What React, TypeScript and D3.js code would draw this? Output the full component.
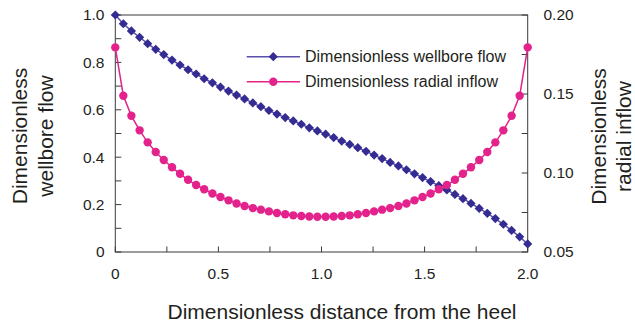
import React from 'react';
import * as d3 from 'd3';

// distance from the heel (52 stations)
const distance = [
  0, 0.039, 0.078, 0.118, 0.157, 0.196, 0.235, 0.275, 0.314, 0.353, 0.392, 0.431, 0.471,
  0.51, 0.549, 0.588, 0.627, 0.667, 0.706, 0.745, 0.784, 0.824, 0.863, 0.902, 0.941, 0.98,
  1.02, 1.059, 1.098, 1.137, 1.176, 1.216, 1.255, 1.294, 1.333, 1.373, 1.412, 1.451, 1.49,
  1.529, 1.569, 1.608, 1.647, 1.686, 1.725, 1.765, 1.804, 1.843, 1.882, 1.922, 1.961, 2.0,
];

// left axis
const wellboreFlow = [
  1.0, 0.963, 0.933, 0.906, 0.879, 0.855, 0.833, 0.81, 0.789, 0.769, 0.751, 0.731, 0.714,
  0.696, 0.679, 0.662, 0.646, 0.629, 0.613, 0.597, 0.582, 0.567, 0.553, 0.539, 0.524, 0.511,
  0.497, 0.483, 0.468, 0.454, 0.44, 0.425, 0.409, 0.394, 0.378, 0.363, 0.347, 0.33, 0.314,
  0.297, 0.28, 0.262, 0.243, 0.225, 0.205, 0.184, 0.163, 0.141, 0.117, 0.091, 0.064, 0.034,
];

// right axis
const radialInflow = [
  0.1795, 0.1489, 0.1362, 0.127, 0.1194, 0.1133, 0.1082, 0.1036, 0.0995, 0.0957, 0.0924,
  0.0897, 0.087, 0.0848, 0.0827, 0.0807, 0.0791, 0.0778, 0.0768, 0.0757, 0.0747, 0.0739,
  0.0732, 0.0728, 0.0725, 0.0723, 0.0723, 0.0725, 0.0728, 0.0732, 0.0739, 0.0747, 0.0757,
  0.0768, 0.0778, 0.0791, 0.0807, 0.0827, 0.0848, 0.087, 0.0897, 0.0924, 0.0957, 0.0995,
  0.1036, 0.1082, 0.1133, 0.1194, 0.127, 0.1362, 0.1489, 0.1795,
];

const xTicks = [0, 0.25, 0.5, 0.75, 1.0, 1.25, 1.5, 1.75, 2.0];
const xLabels = ['0', '0.5', '1.0', '1.5', '2.0'];
const leftTicks = [0, 0.1, 0.2, 0.3, 0.4, 0.5, 0.6, 0.7, 0.8, 0.9, 1.0];
const leftLabels = ['0', '0.2', '0.4', '0.6', '0.8', '1.0'];
const rightTicks = [0.05, 0.075, 0.1, 0.125, 0.15, 0.175, 0.2];
const rightLabels = ['0.05', '0.10', '0.15', '0.20'];

const W = 635;
const H = 325;
const margin = { top: 15, right: 107.3, bottom: 73, left: 115.3 };
const font = '"Liberation Sans", Arial, sans-serif';
const axisColor = '#3a3a3a';
const textColor = '#231f20';
const blue = '#352c93';
const blueLine = '#5a50aa';
const pink = '#e3238b';

export default function App() {
  const x = d3.scaleLinear().domain([0, 2]).range([margin.left, W - margin.right]);
  const yL = d3.scaleLinear().domain([0, 1]).range([H - margin.bottom, margin.top]);
  const yR = d3.scaleLinear().domain([0.05, 0.2]).range([H - margin.bottom, margin.top]);

  const x0 = x.range()[0];
  const x1 = x.range()[1];
  const yb = yL.range()[0];
  const yt = yL.range()[1];

  const flowPts = distance.map((d, i) => [x(d), yL(wellboreFlow[i])] as [number, number]);
  const inflowPts = distance.map((d, i) => [x(d), yR(radialInflow[i])] as [number, number]);
  const line = d3.line();

  const diamond = (cx: number, cy: number, r: number) =>
    `M${cx},${cy - r}L${cx + r},${cy}L${cx},${cy + r}L${cx - r},${cy}Z`;

  return (
    <svg width={W} height={H} style={{ position: 'absolute', left: 0, top: 0 }} fontFamily={font}>
      <rect width={W} height={H} fill="#fff" />

      {/* frame */}
      <rect x={x0} y={yt} width={x1 - x0} height={yb - yt} fill="none" stroke={axisColor} strokeWidth={1} />

      {/* ticks, inward */}
      {xTicks.map((t) => (
        <line key={'xt' + t} x1={x(t)} x2={x(t)} y1={yb} y2={yb - 5.5} stroke={axisColor} />
      ))}
      {leftTicks.map((t) => (
        <line key={'lt' + t} x1={x0} x2={x0 + 6} y1={yL(t)} y2={yL(t)} stroke={axisColor} />
      ))}
      {rightTicks.map((t) => (
        <line key={'rt' + t} x1={x1} x2={x1 - 6} y1={yR(t)} y2={yR(t)} stroke={axisColor} />
      ))}

      {/* tick labels */}
      {xLabels.map((s) => (
        <text key={'xl' + s} x={x(+s)} y={278.5} textAnchor="middle" fontSize={15.5} fill={textColor}>
          {s}
        </text>
      ))}
      {leftLabels.map((s) => (
        <text key={'ll' + s} x={104.5} y={yL(+s)} dy="0.35em" textAnchor="end" fontSize={15.5} fill={textColor}>
          {s}
        </text>
      ))}
      {rightLabels.map((s) => (
        <text key={'rl' + s} x={543.5} y={yR(+s)} dy="0.35em" textAnchor="start" fontSize={15.5} fill={textColor}>
          {s}
        </text>
      ))}

      {/* axis titles */}
      <text x={342} y={318.5} textAnchor="middle" fontSize={21} fill={textColor}>
        Dimensionless distance from the heel
      </text>
      <g transform="translate(26.5,136) rotate(-90)">
        <text textAnchor="middle" fontSize={21} fill={textColor}>Dimensionless</text>
        <text y={26.5} textAnchor="middle" fontSize={21} fill={textColor}>wellbore flow</text>
      </g>
      <g transform="translate(606,136.5) rotate(-90)">
        <text textAnchor="middle" fontSize={21} fill={textColor}>Dimensionless</text>
        <text y={24.5} textAnchor="middle" fontSize={21} fill={textColor}>radial inflow</text>
      </g>

      {/* wellbore flow series */}
      <path d={line(flowPts) ?? ''} fill="none" stroke={blueLine} strokeWidth={1.5} />
      {flowPts.map(([cx, cy], i) => (
        <path key={'d' + i} d={diamond(cx, cy, 4.6)} fill={blue} />
      ))}

      {/* radial inflow series */}
      <path d={line(inflowPts) ?? ''} fill="none" stroke={pink} strokeWidth={1.5} />
      {inflowPts.map(([cx, cy], i) => (
        <circle key={'c' + i} cx={cx} cy={cy} r={4.2} fill={pink} />
      ))}

      {/* legend */}
      <line x1={246.7} x2={300} y1={56.7} y2={56.7} stroke={blueLine} strokeWidth={1.5} />
      <path d={diamond(273.3, 56.7, 4.6)} fill={blue} />
      <text x={305} y={56.7} dy="0.35em" fontSize={16} fill={textColor}>Dimensionless wellbore flow</text>
      <line x1={246.7} x2={300} y1={81.7} y2={81.7} stroke={pink} strokeWidth={1.5} />
      <circle cx={273.3} cy={81.7} r={4.2} fill={pink} />
      <text x={305} y={81.7} dy="0.35em" fontSize={16} fill={textColor}>Dimensionless radial inflow</text>
    </svg>
  );
}
